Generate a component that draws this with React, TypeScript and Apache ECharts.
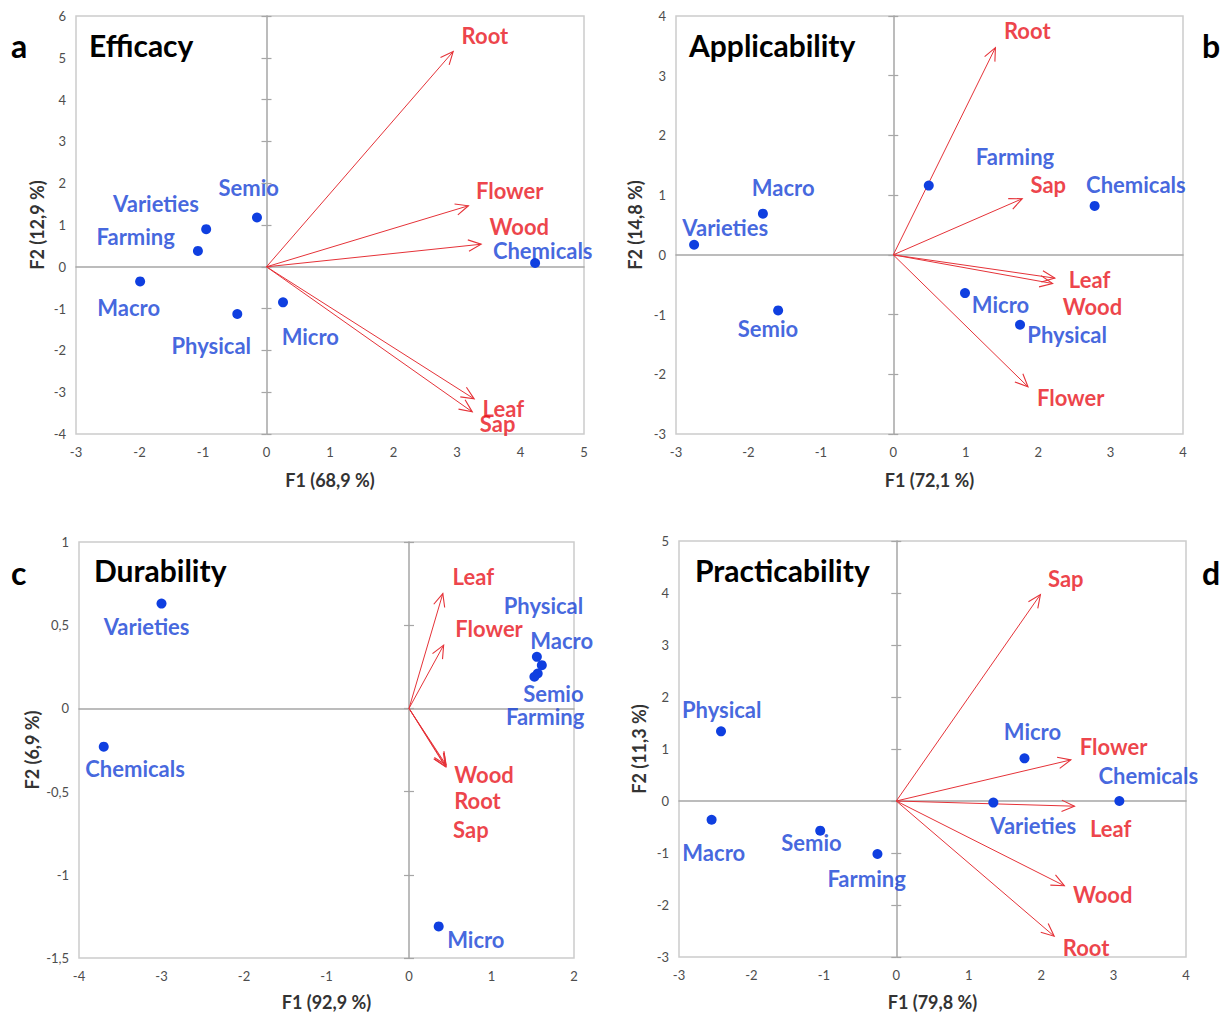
import React, { useEffect, useRef } from "react";
import * as echarts from "echarts";

// ---------- Data ----------
// Panel a: Efficacy
const effObs = ["Varieties", "Farming", "Semio", "Macro", "Physical", "Micro", "Chemicals"];
const effObsF1 = [-0.95, -1.08, -0.15, -1.99, -0.46, 0.26, 4.23];
const effObsF2 = [0.9, 0.38, 1.18, -0.35, -1.13, -0.85, 0.09];
const effVar = ["Root", "Flower", "Wood", "Leaf", "Sap"];
const effVarF1 = [2.94, 3.18, 3.38, 3.27, 3.24];
const effVarF2 = [5.15, 1.46, 0.54, -3.16, -3.47];

// Panel b: Applicability
const appObs = ["Farming", "Chemicals", "Macro", "Varieties", "Semio", "Micro", "Physical"];
const appObsF1 = [0.49, 2.78, -1.8, -2.75, -1.59, 0.99, 1.75];
const appObsF2 = [1.16, 0.82, 0.69, 0.17, -0.93, -0.64, -1.17];
const appVar = ["Root", "Sap", "Leaf", "Wood", "Flower"];
const appVarF1 = [1.41, 1.78, 2.23, 2.2, 1.86];
const appVarF2 = [3.47, 0.94, -0.39, -0.48, -2.21];

// Panel c: Durability
const durObs = ["Varieties", "Chemicals", "Micro", "Physical", "Macro", "Semio", "Farming"];
const durObsF1 = [-3.0, -3.7, 0.36, 1.55, 1.61, 1.56, 1.52];
const durObsF2 = [0.63, -0.23, -1.31, 0.31, 0.26, 0.21, 0.19];
const durVar = ["Leaf", "Flower", "Wood", "Root", "Sap"];
const durVarF1 = [0.41, 0.42, 0.45, 0.44, 0.45];
const durVarF2 = [0.69, 0.38, -0.34, -0.35, -0.35];

// Panel d: Practicability
const praObs = ["Physical", "Macro", "Semio", "Farming", "Micro", "Varieties", "Chemicals"];
const praObsF1 = [-2.42, -2.55, -1.05, -0.26, 1.77, 1.34, 3.08];
const praObsF2 = [1.34, -0.36, -0.57, -1.02, 0.82, -0.03, 0.0];
const praVar = ["Sap", "Flower", "Leaf", "Wood", "Root"];
const praVarF1 = [1.99, 2.41, 2.46, 2.32, 2.18];
const praVarF2 = [3.97, 0.79, -0.1, -1.63, -2.6];

// Axis texts
const panelTitles = ["Efficacy", "Applicability", "Durability", "Practicability"];
const panelLetters = ["a", "b", "c", "d"];
const xNames = ["F1 (68,9 %)", "F1 (72,1 %)", "F1 (92,9 %)", "F1 (79,8 %)"];
const yNames = ["F2 (12,9 %)", "F2 (14,8 %)", "F2 (6,9 %)", "F2 (11,3 %)"];
const xRanges = [[-3, 5], [-3, 4], [-4, 2], [-3, 4]];
const yRanges = [[-4, 6], [-3, 4], [-1.5, 1], [-3, 5]];
const yIntervals = [1, 1, 0.5, 1];

// ---------- Label placement (data coordinates of label centres) ----------
const effObsLabelAt = [[-1.74, 1.52], [-2.06, 0.72], [-0.28, 1.9], [-2.17, -0.97], [-0.87, -1.89], [0.69, -1.67], [4.35, 0.39]];
const effVarLabelAt = [[3.44, 5.54], [3.83, 1.83], [3.98, 0.96], [3.73, -3.38], [3.64, -3.74]];
const appObsLabelAt = [[1.68, 1.64], [3.35, 1.18], [-1.52, 1.13], [-2.32, 0.46], [-1.73, -1.23], [1.48, -0.83], [2.4, -1.34]];
const appVarLabelAt = [[1.85, 3.75], [2.14, 1.18], [2.71, -0.42], [2.75, -0.86], [2.45, -2.39]];
const durObsLabelAt = [[-3.18, 0.49], [-3.32, -0.36], [0.81, -1.39], [1.63, 0.62], [1.85, 0.41], [1.75, 0.09], [1.65, -0.05]];
const durVarLabelAt = [[0.78, 0.79], [0.97, 0.48], [0.91, -0.4], [0.83, -0.555], [0.75, -0.73]];
const praObsLabelAt = [[-2.41, 1.76], [-2.52, -0.99], [-1.17, -0.8], [-0.41, -1.49], [1.88, 1.33], [1.89, -0.48], [3.48, 0.5]];
const praVarLabelAt = [[2.34, 4.27], [3.0, 1.05], [2.96, -0.52], [2.85, -1.8], [2.62, -2.82]];

const panels = [
  { obs: effObs, ox: effObsF1, oy: effObsF2, vars: effVar, vx: effVarF1, vy: effVarF2, obsLab: effObsLabelAt, varLab: effVarLabelAt },
  { obs: appObs, ox: appObsF1, oy: appObsF2, vars: appVar, vx: appVarF1, vy: appVarF2, obsLab: appObsLabelAt, varLab: appVarLabelAt },
  { obs: durObs, ox: durObsF1, oy: durObsF2, vars: durVar, vx: durVarF1, vy: durVarF2, obsLab: durObsLabelAt, varLab: durVarLabelAt },
  { obs: praObs, ox: praObsF1, oy: praObsF2, vars: praVar, vx: praVarF1, vy: praVarF2, obsLab: praObsLabelAt, varLab: praVarLabelAt },
];

// ---------- Layout ----------
const gridBoxes = [
  { left: 76, top: 16, width: 508, height: 418 },
  { left: 676, top: 16, width: 507, height: 418 },
  { left: 79, top: 542, width: 495, height: 416 },
  { left: 679, top: 541, width: 507, height: 416 },
];
const xNameGaps = [37, 37, 35, 36];
const yNameGaps = [30, 32, 38, 31];
const titlePos = [[89, 45], [689, 45], [94, 570], [695, 570]];
const letterPos = [[11, 45], [1202, 45], [11, 572], [1202, 572]];

const FONT = 'Lato, "Noto Sans", sans-serif';
const BLUE = "#143fd6";
const DOT = "#0f3fe0";
const RED = "#e8121a";
const ARROW = "#e53238";
const TICK_COLOR = "#4d4d4d";
const LABEL_SIZE = 22;

function fmt(v: number) {
  return String(v).replace(".", ",");
}

function buildOption() {
  const grid: any[] = [];
  const xAxis: any[] = [];
  const yAxis: any[] = [];
  const series: any[] = [];
  const graphic: any[] = [];

  panels.forEach((p, i) => {
    const g = gridBoxes[i];
    grid.push({ ...g, show: true, borderColor: "#cccccc", borderWidth: 1.5, backgroundColor: "transparent" });
    const xi = xAxis.length;
    const yi = yAxis.length;
    // label axes
    xAxis.push({
      gridIndex: i, type: "value", position: "bottom", min: xRanges[i][0], max: xRanges[i][1], interval: 1,
      axisLine: { show: false, onZero: false }, axisTick: { show: false }, splitLine: { show: false },
      axisLabel: { color: TICK_COLOR, fontSize: 13, fontFamily: FONT, margin: 11, formatter: fmt },
      name: xNames[i], nameLocation: "middle", nameGap: xNameGaps[i],
      nameTextStyle: { fontFamily: FONT, fontWeight: "bold", fontSize: 18, color: "#333333" },
    });
    // zero line (horizontal)
    xAxis.push({
      gridIndex: i, type: "value", position: "bottom", min: xRanges[i][0], max: xRanges[i][1], interval: 1,
      axisLine: { show: true, onZero: true, onZeroAxisIndex: yi, lineStyle: { color: "#a6a6a6", width: 1.5 } },
      axisTick: { show: false }, axisLabel: { show: false }, splitLine: { show: false },
    });
    yAxis.push({
      gridIndex: i, type: "value", position: "left", min: yRanges[i][0], max: yRanges[i][1], interval: yIntervals[i],
      axisLine: { show: false, onZero: false }, axisTick: { show: false }, splitLine: { show: false },
      axisLabel: { color: TICK_COLOR, fontSize: 13, fontFamily: FONT, margin: 10, formatter: fmt },
      name: yNames[i], nameLocation: "middle", nameGap: yNameGaps[i],
      nameTextStyle: { fontFamily: FONT, fontWeight: "bold", fontSize: 18, color: "#333333" },
    });
    // zero line (vertical) with ticks both sides
    yAxis.push({
      gridIndex: i, type: "value", position: "left", min: yRanges[i][0], max: yRanges[i][1], interval: yIntervals[i],
      axisLine: { show: true, onZero: true, onZeroAxisIndex: xi, lineStyle: { color: "#a6a6a6", width: 1.5 } },
      axisTick: { show: true, length: 5, lineStyle: { color: "#a6a6a6", width: 1.2 } },
      axisLabel: { show: false }, splitLine: { show: false },
    });
    yAxis.push({
      gridIndex: i, type: "value", position: "left", min: yRanges[i][0], max: yRanges[i][1], interval: yIntervals[i],
      axisLine: { show: false, onZero: true, onZeroAxisIndex: xi },
      axisTick: { show: true, inside: true, length: 5, lineStyle: { color: "#a6a6a6", width: 1.2 } },
      axisLabel: { show: false }, splitLine: { show: false },
    });

    // arrows
    series.push({
      type: "custom", xAxisIndex: xi, yAxisIndex: yi, clip: false, silent: true,
      data: p.vars.map((n, k) => ({ name: n, value: [p.vx[k], p.vy[k]] })),
      renderItem: (params: any, api: any) => {
        const o = api.coord([0, 0]);
        const t = api.coord([api.value(0), api.value(1)]);
        const ang = Math.atan2(t[1] - o[1], t[0] - o[0]);
        const L = 14;
        const a = 0.42;
        const h1 = [t[0] - L * Math.cos(ang - a), t[1] - L * Math.sin(ang - a)];
        const h2 = [t[0] - L * Math.cos(ang + a), t[1] - L * Math.sin(ang + a)];
        return {
          type: "group",
          children: [
            { type: "line", shape: { x1: o[0], y1: o[1], x2: t[0], y2: t[1] }, style: { stroke: ARROW, lineWidth: 1, fill: null } },
            { type: "polyline", shape: { points: [h1, t, h2] }, style: { stroke: ARROW, lineWidth: 1.1, fill: null } },
          ],
        };
      },
    });
    // observation dots
    series.push({
      type: "scatter", xAxisIndex: xi, yAxisIndex: yi, symbolSize: 10, silent: true,
      itemStyle: { color: DOT, opacity: 1 },
      data: p.obs.map((n, k) => ({ name: n, value: [p.ox[k], p.oy[k]] })),
    });
    const labelStyle = (color: string) => ({
      show: true, position: "inside", formatter: "{b}", color, fontFamily: FONT, fontWeight: "bold",
      fontSize: LABEL_SIZE, textBorderWidth: 0, textBorderColor: "transparent", textShadowBlur: 0,
    });
    // observation labels
    series.push({
      type: "scatter", xAxisIndex: xi, yAxisIndex: yi, symbolSize: 1, silent: true, clip: false,
      itemStyle: { color: "rgba(0,0,0,0)" },
      label: labelStyle(BLUE),
      data: p.obs.map((n, k) => ({ name: n, value: p.obsLab[k] })),
    });
    // variable labels
    series.push({
      type: "scatter", xAxisIndex: xi, yAxisIndex: yi, symbolSize: 1, silent: true, clip: false,
      itemStyle: { color: "rgba(0,0,0,0)" },
      label: labelStyle(RED),
      data: p.vars.map((n, k) => ({ name: n, value: p.varLab[k] })),
    });

    graphic.push({
      type: "text", x: titlePos[i][0], y: titlePos[i][1], silent: true,
      style: { text: panelTitles[i], fill: "#000", fontFamily: FONT, fontWeight: "bold", fontSize: 30, verticalAlign: "middle" },
    });
    graphic.push({
      type: "text", x: letterPos[i][0], y: letterPos[i][1], silent: true,
      style: { text: panelLetters[i], fill: "#000", fontFamily: FONT, fontWeight: "bold", fontSize: 32, verticalAlign: "middle" },
    });
  });

  return { animation: false, backgroundColor: "#ffffff", grid, xAxis, yAxis, series, graphic };
}

export default function App() {
  const ref = useRef<HTMLDivElement>(null);
  useEffect(() => {
    if (!ref.current) return;
    const chart = echarts.init(ref.current, null, { renderer: "svg" });
    chart.setOption(buildOption() as any);
    return () => chart.dispose();
  }, []);
  return (
    <div
      ref={ref}
      style={{ position: "fixed", left: 0, top: 0, width: 1225, height: 1015, background: "#fff" }}
    />
  );
}
